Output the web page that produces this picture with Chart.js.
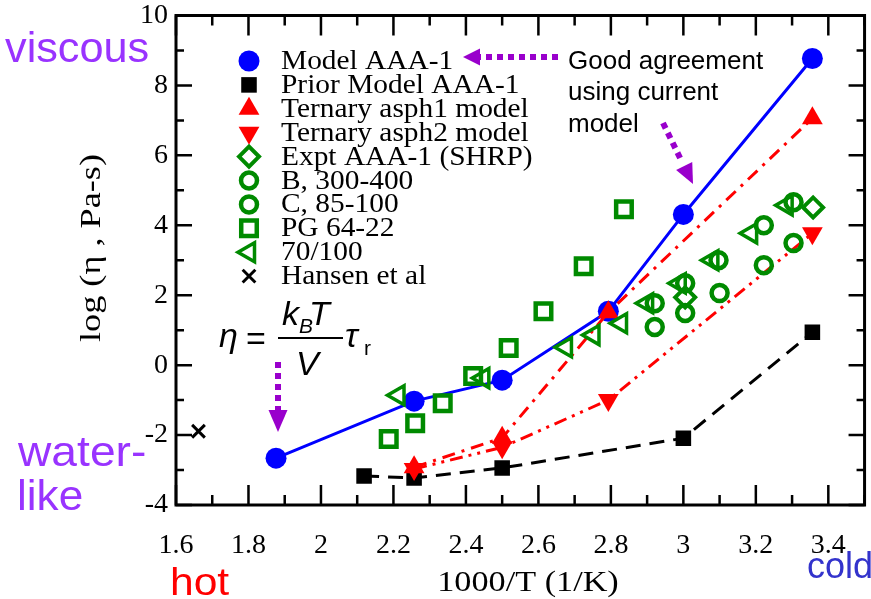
<!DOCTYPE html>
<html>
<head>
<meta charset="utf-8">
<script src="https://cdn.jsdelivr.net/npm/chart.js@4.4.1/dist/chart.umd.min.js"></script>
<style>
  html, body { margin: 0; padding: 0; background: #fff; overflow: hidden; }
  #wrap { width: 871px; height: 599px; overflow: hidden; }
</style>
</head>
<body>
<div id="wrap"><canvas id="c" width="871" height="599"></canvas></div>
<script>
// x values are 1000/T (1/K), y values are log(viscosity, Pa-s)
const modelX = [1.876, 2.257, 2.5, 2.793, 3.0, 3.356];
const modelY = [-2.66, -1.03, -0.43, 1.54, 4.31, 8.77];
const priorX = [2.119, 2.257, 2.5, 3.0, 3.356];
const priorY = [-3.17, -3.23, -2.94, -2.09, 0.94];
const asph1X = [2.257, 2.5, 2.793, 3.356];
const asph1Y = [-2.92, -2.08, 1.51, 7.06];
const asph2X = [2.257, 2.5, 2.793, 3.356];
const asph2Y = [-2.97, -2.35, -1.0, 3.77];
const exptX = [3.005, 3.358];
const exptY = [1.94, 4.51];
const bX = [2.921, 3.005, 3.1, 3.222, 3.304];
const bY = [1.09, 1.49, 2.06, 2.86, 3.49];
const cX = [2.921, 3.005, 3.097, 3.222, 3.304];
const cY = [1.77, 2.34, 3.0, 4.0, 4.66];
const pgX = [2.187, 2.26, 2.336, 2.42, 2.518, 2.614, 2.725, 2.836];
const pgY = [-2.11, -1.66, -1.09, -0.31, 0.49, 1.54, 2.83, 4.46];
const triX = [2.214, 2.448, 2.676, 2.752, 2.828, 2.9, 2.99, 3.08, 3.187, 3.285];
const triY = [-0.86, -0.37, 0.51, 0.86, 1.2, 1.77, 2.34, 3.0, 3.77, 4.57];
const hansenX = [1.662];
const hansenY = [-1.89];

const serif = '"Liberation Serif", "Times New Roman", serif';
const sans = '"Liberation Sans", Arial, sans-serif';
const green = '#008a00';
const none = 'rgba(0,0,0,0)';

const pts = (xs, ys) => xs.map((x, i) => ({ x: x, y: ys[i] }));

const datasets = [
  { label: 'Model AAA-1', data: pts(modelX, modelY), showLine: true,
    borderColor: '#0000ff', borderWidth: 3, pointStyle: 'circle', pointRadius: 10.5,
    pointBackgroundColor: '#0000ff', pointBorderWidth: 0 },
  { label: 'Prior Model AAA-1', data: pts(priorX, priorY), showLine: true,
    borderColor: '#000', borderWidth: 3, borderDash: [15, 9], pointStyle: 'rect', pointRadius: 11,
    pointBackgroundColor: '#000', pointBorderWidth: 0 },
  { label: 'Ternary asph1 model', data: pts(asph1X, asph1Y), showLine: true,
    borderColor: '#ff0000', borderWidth: 3, borderDash: [13, 7, 3, 7], pointStyle: 'triangle', pointRadius: 12,
    pointBackgroundColor: '#ff0000', pointBorderWidth: 0 },
  { label: 'Ternary asph2 model', data: pts(asph2X, asph2Y), showLine: true,
    borderColor: '#ff0000', borderWidth: 3, borderDash: [13, 6, 3, 6, 3, 6], pointStyle: 'triangle', pointRotation: 180,
    pointRadius: 12, pointBackgroundColor: '#ff0000', pointBorderWidth: 0 },
  { label: 'Expt AAA-1 (SHRP)', data: pts(exptX, exptY), pointStyle: 'rectRot', pointRadius: 10,
    pointBorderColor: green, pointBackgroundColor: none, pointBorderWidth: 4 },
  { label: 'B, 300-400', data: pts(bX, bY), pointStyle: 'circle', pointRadius: 8,
    pointBorderColor: green, pointBackgroundColor: none, pointBorderWidth: 4.5 },
  { label: 'C, 85-100', data: pts(cX, cY), pointStyle: 'circle', pointRadius: 8,
    pointBorderColor: green, pointBackgroundColor: none, pointBorderWidth: 4.5 },
  { label: 'PG 64-22', data: pts(pgX, pgY), pointStyle: 'rect', pointRadius: 11,
    pointBorderColor: green, pointBackgroundColor: none, pointBorderWidth: 4.5 },
  { label: '70/100', data: pts(triX, triY), pointStyle: 'triangle', pointRotation: 270, pointRadius: 11,
    pointBorderColor: green, pointBackgroundColor: none, pointBorderWidth: 3.5 },
  { label: 'Hansen et al', data: pts(hansenX, hansenY), pointStyle: 'crossRot', pointRadius: 9,
    pointBorderColor: '#000', pointBackgroundColor: none, pointBorderWidth: 3 }
];
// first legend entry drawn at the bottom
datasets.forEach((d, i) => { d.order = datasets.length - i; });

function arrowHead(ctx, tx, ty, dx, dy, len, half) {
  const bx = tx - dx * len, by = ty - dy * len;
  ctx.beginPath();
  ctx.moveTo(tx, ty);
  ctx.lineTo(bx - dy * half, by + dx * half);
  ctx.lineTo(bx + dy * half, by - dx * half);
  ctx.closePath();
  ctx.fill();
}

function dotted(ctx, x1, y1, x2, y2) {
  ctx.save();
  ctx.lineWidth = 6;
  ctx.setLineDash([6, 5]);
  ctx.beginPath();
  ctx.moveTo(x1, y1);
  ctx.lineTo(x2, y2);
  ctx.stroke();
  ctx.restore();
}

// text stretched sideways, like the source figure
function wideText(ctx, text, x, y, sx) {
  ctx.save();
  ctx.translate(x, y);
  ctx.scale(sx, 1);
  ctx.fillText(text, 0, 0);
  ctx.restore();
}

const deco = {
  id: 'deco',
  afterDraw(chart) {
    const ctx = chart.ctx, a = chart.chartArea;
    const xs = chart.scales.x, ys = chart.scales.y;
    // the box runs to 3.5, just past the picture's right edge
    const right = xs.getPixelForValue(3.5);
    ctx.save();

    // inward ticks and frame
    ctx.strokeStyle = '#000';
    ctx.lineWidth = 2.5;
    ctx.beginPath();
    for (let k = 0; k <= 19; k++) {
      const p = xs.getPixelForValue(1.6 + k * 0.1);
      const L = k % 2 === 0 ? 20 : 10;
      ctx.moveTo(p, a.bottom); ctx.lineTo(p, a.bottom - L);
      ctx.moveTo(p, a.top); ctx.lineTo(p, a.top + L);
    }
    for (let v = -4; v <= 10; v++) {
      const p = ys.getPixelForValue(v);
      const L = v % 2 === 0 ? 16 : 8;
      ctx.moveTo(a.left, p); ctx.lineTo(a.left + L, p);
      ctx.moveTo(right, p); ctx.lineTo(right - L, p);
    }
    ctx.stroke();
    ctx.lineWidth = 3;
    ctx.strokeRect(a.left, a.top, right - a.left, a.bottom - a.top);

    // legend
    ctx.font = '28px ' + serif;
    ctx.textBaseline = 'alphabetic';
    ctx.textAlign = 'left';
    chart.data.datasets.forEach((d, i) => {
      const base = 69 + 23.9 * i;
      const cy = base - 8;
      ctx.save();
      ctx.fillStyle = d.pointBackgroundColor;
      ctx.strokeStyle = d.pointBorderColor || d.pointBackgroundColor;
      ctx.lineWidth = d.pointBorderWidth;
      Chart.helpers.drawPoint(ctx, {
        pointStyle: d.pointStyle, rotation: d.pointRotation || 0,
        radius: d.pointRadius, borderWidth: d.pointBorderWidth
      }, 249, cy);
      ctx.restore();
      ctx.fillStyle = '#000';
      wideText(ctx, d.label, 281, base, 1.05);
    });

    // axis titles
    ctx.fillStyle = '#000';
    ctx.font = '29px ' + serif;
    ctx.textAlign = 'center';
    wideText(ctx, '1000/T (1/K)', 528, 591, 1.18);
    ctx.save();
    ctx.translate(100, 248);
    ctx.rotate(-Math.PI / 2);
    ctx.scale(1.25, 1);
    ctx.fillText('log (\u03b7 , Pa-s)', 0, 0);
    ctx.restore();

    // side labels
    ctx.textAlign = 'left';
    ctx.font = '42px ' + sans;
    ctx.fillStyle = '#9933ff';
    wideText(ctx, 'viscous', 5, 62, 1.03);
    wideText(ctx, 'water-', 18, 466, 1.1);
    wideText(ctx, 'like', 17, 510, 1.05);
    ctx.font = '38px ' + sans;
    ctx.fillStyle = '#ff0000';
    wideText(ctx, 'hot', 170, 595, 1.12);
    ctx.font = '36px ' + sans;
    ctx.fillStyle = '#3333cc';
    ctx.fillText('cold', 807, 578);

    // note
    ctx.fillStyle = '#000';
    ctx.font = '26px ' + sans;
    ctx.fillText('Good agreement', 568, 69);
    ctx.fillText('using current', 568, 100);
    ctx.fillText('model', 568, 132);

    // formula
    ctx.font = 'italic 34px ' + sans;
    ctx.fillText('\u03b7', 219, 347);
    ctx.font = '34px ' + sans;
    ctx.fillText('=', 246, 350);
    ctx.font = 'italic 34px ' + sans;
    ctx.fillText('k', 282, 325);
    ctx.fillText('T', 309, 325);
    ctx.fillText('V', 296, 375);
    ctx.fillText('\u03c4', 345, 347);
    ctx.font = 'italic 21px ' + sans;
    ctx.fillText('B', 299, 333);
    ctx.font = '21px ' + sans;
    ctx.fillText('r', 364, 355);
    ctx.lineWidth = 2;
    ctx.beginPath();
    ctx.moveTo(278, 338); ctx.lineTo(343, 338);
    ctx.stroke();

    // purple dotted arrows
    ctx.strokeStyle = '#9900cc';
    ctx.fillStyle = '#9900cc';
    dotted(ctx, 558, 57, 480, 57);
    arrowHead(ctx, 463, 57, -1, 0, 17, 8.5);
    const dl = Math.hypot(30, 61), ux = 30 / dl, uy = 61 / dl;
    dotted(ctx, 663, 123, 682, 162);
    arrowHead(ctx, 693, 184, ux, uy, 20, 9);
    dotted(ctx, 278, 362, 278, 410);
    arrowHead(ctx, 278, 432, 0, 1, 22, 9.5);

    ctx.restore();
  }
};

new Chart(document.getElementById('c'), {
  type: 'scatter',
  data: { datasets: datasets },
  options: {
    responsive: false,
    animation: false,
    layout: { padding: { top: 15, right: 0, left: 0, bottom: 0 } },
    plugins: { legend: { display: false }, tooltip: { enabled: false } },
    scales: {
      x: {
        type: 'linear', min: 1.6, max: 3.475,
        grid: { display: false, drawTicks: false },
        border: { display: false },
        ticks: {
          stepSize: 0.2, includeBounds: false, padding: 24, color: '#000',
          font: { family: serif, size: 28 },
          callback: v => String(Math.round(v * 10) / 10)
        },
        afterFit: s => { s.height = 94; s.paddingLeft = 0; s.paddingRight = 0; }
      },
      y: {
        type: 'linear', min: -4, max: 10,
        grid: { display: false, drawTicks: false },
        border: { display: false },
        ticks: {
          stepSize: 2, padding: 8, color: '#000',
          font: { family: serif, size: 28 },
          callback: v => String(v)
        },
        afterFit: s => { s.width = 176; s.paddingTop = 0; s.paddingBottom = 0; }
      }
    }
  },
  plugins: [deco]
});
</script>
</body>
</html>
